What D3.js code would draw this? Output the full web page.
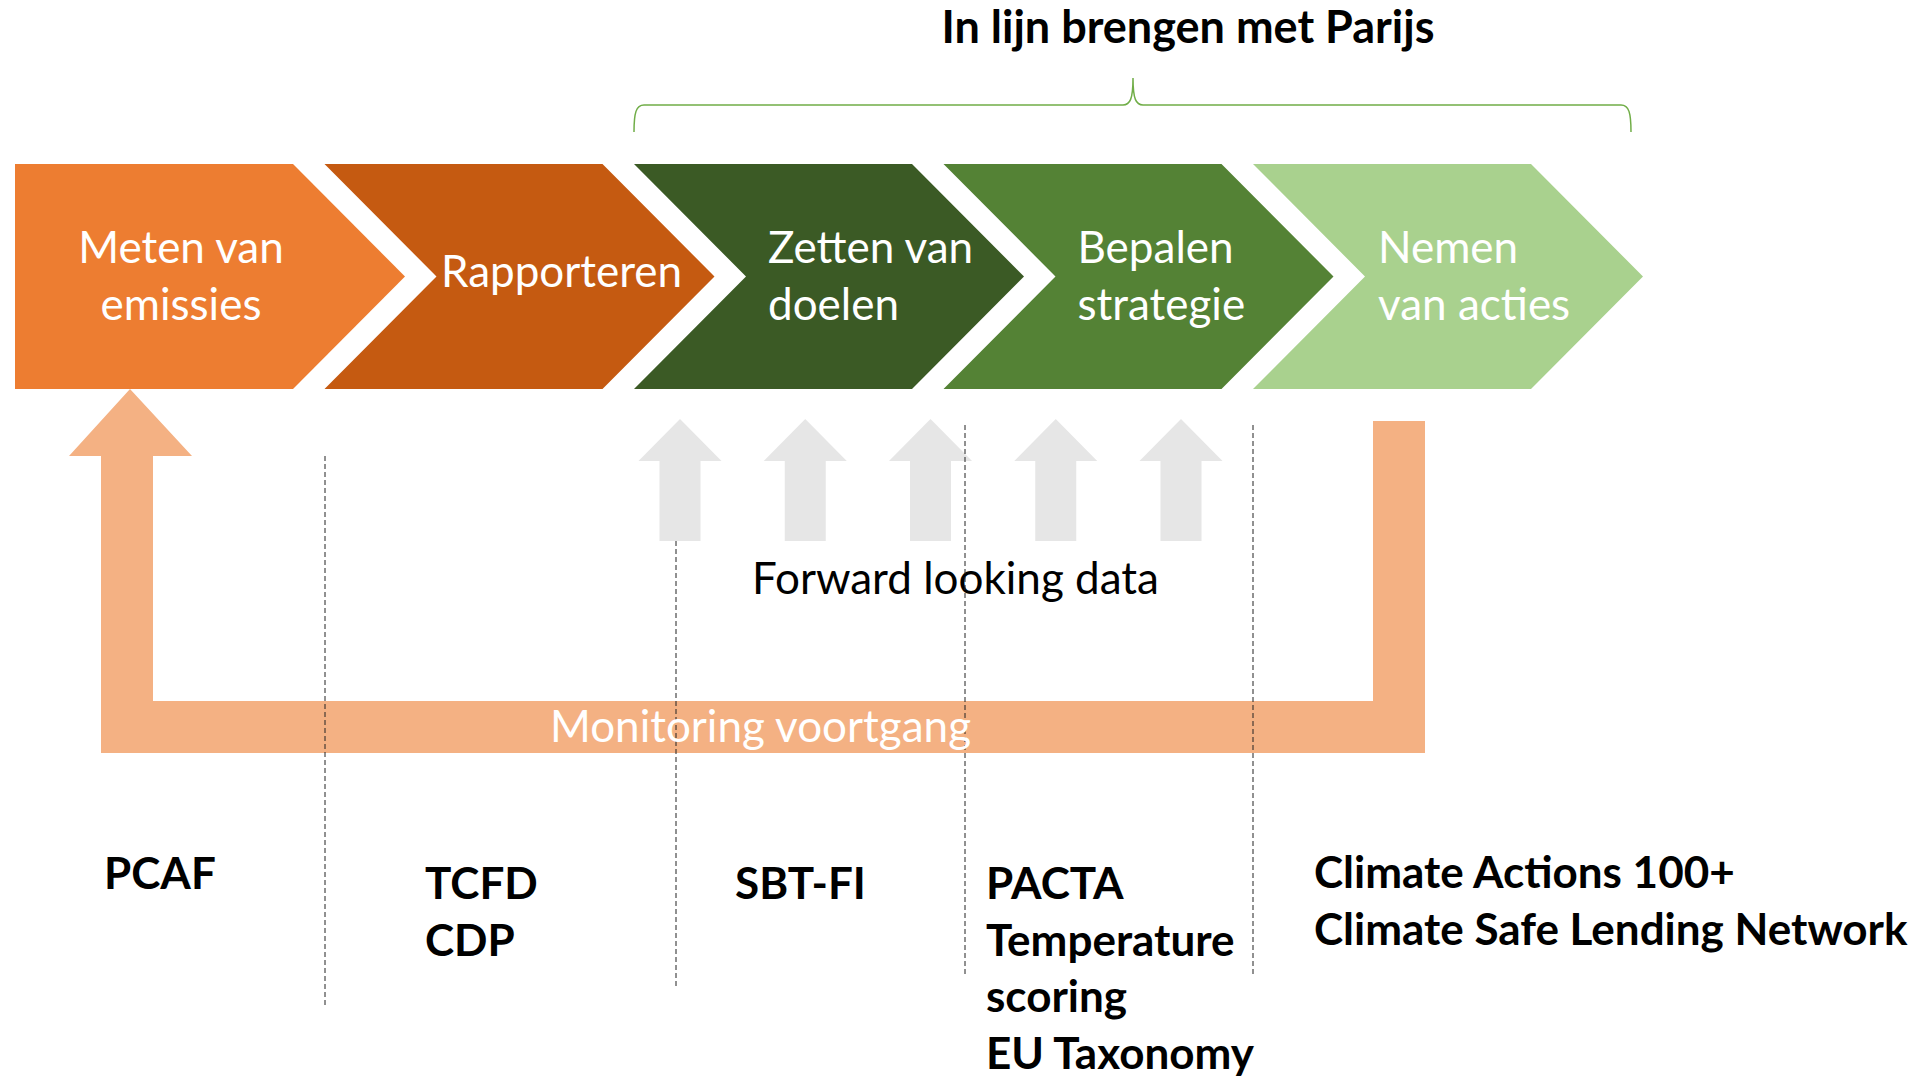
<!DOCTYPE html>
<html>
<head>
<meta charset="utf-8">
<script src="https://cdn.jsdelivr.net/npm/d3@7"></script>
<style>
  html, body { margin: 0; padding: 0; background: #fff; }
  svg { display: block; }
  text { font-family: Lato, "Open Sans", sans-serif; }
</style>
</head>
<body>
<svg id="chart" width="1926" height="1079"></svg>
<script>
// Stages of the process (one chevron each)
const stages = [
    ['Meten van', 'emissies'],
    ['Rapporteren'],
    ['Zetten van', 'doelen'],
    ['Bepalen', 'strategie'],
    ['Nemen', 'van acties']
];
const stageColors = ['#ED7D31', '#C55A11', '#3B5A25', '#548235', '#A9D18E'];

// Frameworks listed under each column
const frameworks = [
    ['PCAF'],
    ['TCFD', 'CDP'],
    ['SBT-FI'],
    ['PACTA', 'Temperature', 'scoring', 'EU Taxonomy'],
    ['Climate Actions 100+', 'Climate Safe Lending Network']
];

const forwardArrows = [0, 1, 2, 3, 4];
const titleText = 'In lijn brengen met Parijs';
const forwardText = 'Forward looking data';
const monitorText = 'Monitoring voortgang';

const svg = d3.select('#chart');
const fs = '44px';

// Horizontal position of each chevron
const x = d3.scaleLinear().domain([0, stages.length]).range([15, 15 + 5 * 309.5]);
const cTop = 164, cBot = 389, cMid = (cTop + cBot) / 2;
const body = 278, tip = 112;

// Chevrons
const chev = svg.append('g').attr('class', 'chevrons');
chev.selectAll('path')
    .data(stages)
    .enter().append('path')
    .attr('fill', (d, i) => stageColors[i])
    .attr('d', (d, i) => {
        const x0 = x(i);
        const p = d3.path();
        p.moveTo(x0, cTop);
        p.lineTo(x0 + body, cTop);
        p.lineTo(x0 + body + tip, cMid);
        p.lineTo(x0 + body, cBot);
        p.lineTo(x0, cBot);
        if (i > 0) p.lineTo(x0 + tip, cMid);
        p.closePath();
        return p.toString();
    });

// Label placement inside chevrons
const labelPos = [
    {dx: 166, anchor: 'middle'},
    {dx: 237, anchor: 'middle'},
    {dx: 134, anchor: 'start'},
    {dx: 134, anchor: 'start'},
    {dx: 125, anchor: 'start'}
];
stages.forEach((lines, i) => {
    const y0 = lines.length === 1 ? 287 : 263;
    const t = svg.append('text')
        .attr('text-anchor', labelPos[i].anchor)
        .style('font-size', fs)
        .style('fill', '#fff');
    lines.forEach((l, j) => {
        t.append('tspan')
            .attr('x', x(i) + labelPos[i].dx)
            .attr('y', y0 + j * 57)
            .text(l);
    });
});

// Brace over the last three stages
const bL = x(2), bR = 1631, bM = 1133, bY = 105, bTop = 78, bBot = 132;
svg.append('path')
    .attr('d', `M${bL},${bBot} C${bL},${bY + 8} ${bL + 2},${bY} ${bL + 10},${bY}
        L${bM - 10},${bY} C${bM - 3},${bY} ${bM},${bY - 6} ${bM},${bTop}
        C${bM},${bY - 6} ${bM + 3},${bY} ${bM + 10},${bY}
        L${bR - 10},${bY} C${bR - 2},${bY} ${bR},${bY + 8} ${bR},${bBot}`)
    .attr('fill', 'none')
    .attr('stroke', '#70AD47')
    .attr('stroke-width', 1.5);

svg.append('text')
    .attr('x', 1188).attr('y', 43)
    .attr('text-anchor', 'middle')
    .style('font-size', '45px')
    .style('font-weight', 'bold')
    .text(titleText);

// Monitoring feedback arrow (L shape)
svg.append('path')
    .attr('fill', '#F4B183')
    .attr('d', d3.line()([
        [130, 389], [192, 456], [153, 456], [153, 701], [1373, 701], [1373, 421],
        [1425, 421], [1425, 753], [101, 753], [101, 456], [69, 456]
    ]) + 'Z');

// Forward looking data arrows
const ax = d3.scaleLinear().domain([0, 4]).range([680, 1181]);
svg.append('g').selectAll('path')
    .data(forwardArrows)
    .enter().append('path')
    .attr('fill', '#E6E6E6')
    .attr('d', d => {
        const c = ax(d);
        return d3.line()([
            [c, 419], [c + 41.5, 461], [c + 20.5, 461], [c + 20.5, 541],
            [c - 20.5, 541], [c - 20.5, 461], [c - 41.5, 461]
        ]) + 'Z';
    });

svg.append('text')
    .attr('x', 752).attr('y', 594)
    .style('font-size', fs)
    .text(forwardText);

// Dashed column dividers
const dividers = [
    {x: 325, y1: 456, y2: 1006},
    {x: 676, y1: 541, y2: 986},
    {x: 965, y1: 425, y2: 976},
    {x: 1253, y1: 425, y2: 976}
];
svg.append('g').selectAll('line')
    .data(dividers)
    .enter().append('line')
    .attr('x1', d => d.x).attr('x2', d => d.x)
    .attr('y1', d => d.y1).attr('y2', d => d.y2)
    .attr('stroke', '#222')
    .attr('stroke-width', 1)
    .attr('stroke-dasharray', '5,3');

svg.append('text')
    .attr('x', 550).attr('y', 742)
    .style('font-size', fs)
    .style('fill', '#fff')
    .text(monitorText);

// Framework lists
const fwPos = [
    {x: 104, y: 889},
    {x: 425, y: 899},
    {x: 735, y: 899},
    {x: 986, y: 899},
    {x: 1314, y: 888}
];
frameworks.forEach((lines, i) => {
    const t = svg.append('text')
        .style('font-size', fs)
        .style('font-weight', 'bold')
        .style('fill', '#000');
    lines.forEach((l, j) => {
        t.append('tspan')
            .attr('x', fwPos[i].x)
            .attr('y', fwPos[i].y + j * 56.5)
            .text(l);
    });
});
</script>
</body>
</html>
